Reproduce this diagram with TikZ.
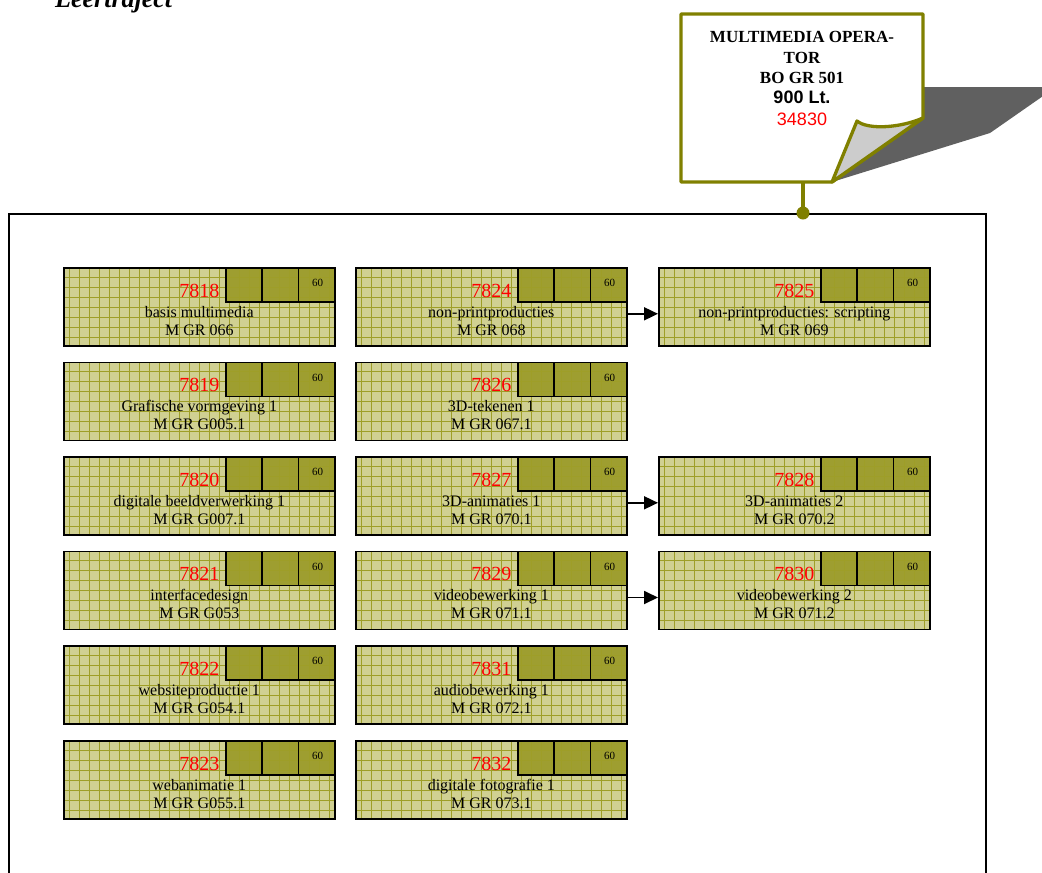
\documentclass[tikz,border=0pt]{standalone}
\usepackage{fontspec}
\setmainfont{Liberation Serif}
\newfontfamily\arialf{Liberation Sans}
\usetikzlibrary{arrows.meta}
\definecolor{olivegrid}{RGB}{158,158,40}
\definecolor{boxfill}{RGB}{208,208,146}
\definecolor{darkfill}{RGB}{158,158,48}
\definecolor{noteline}{RGB}{128,128,0}
\definecolor{shadowgray}{RGB}{96,96,96}
\definecolor{flapgray}{RGB}{204,204,204}
\tikzset{
  course/.style={draw=black, line width=1.6pt, fill=boxfill, minimum width=271pt, minimum height=78pt,
    inner sep=0pt, anchor=north west,
    path picture={
      \coordinate (ne) at (path picture bounding box.north east);
      \fill[darkfill] ([xshift=-109pt,yshift=-34pt]ne) rectangle (ne);
      \draw[olivegrid, line width=0.6pt, step=10pt] (path picture bounding box.south west) grid (path picture bounding box.north east);
      \draw[black, line width=1.6pt] ([xshift=-109pt,yshift=-34pt]ne) rectangle (ne);
      \draw[black, line width=1.6pt] ([xshift=-72.7pt]ne) -- ++(0,-34pt);
      \draw[black, line width=1.6pt] ([xshift=-36.3pt]ne) -- ++(0,-34pt);
    }},
  numtxt/.style={text=red, font=\fontsize{20}{20}\selectfont, anchor=base, inner sep=0pt},
  nametxt/.style={font=\fontsize{16}{16}\selectfont, anchor=base, inner sep=0pt},
  sixty/.style={font=\fontsize{11}{11}\selectfont, inner sep=0pt},
  arr/.style={line width=1.8pt, -{Triangle[length=14pt,width=13pt]}},
  notetxt/.style={font=\fontsize{17}{17}\selectfont\bfseries, anchor=base, inner sep=0pt},
  notesans/.style={font=\arialf\fontsize{18}{18}\selectfont, anchor=base, inner sep=0pt},
  noteedge/.style={draw=noteline, line width=3.3pt, line join=round}
}
\newcommand\course[6]{%
  \node[course] (#1) at (#2,#3) {};
  \node[numtxt] (#1n) at ([yshift=-30pt]#1.north) {#4};
  \node[nametxt] (#1t) at ([yshift=-50pt]#1.north) {#5};
  \node[nametxt] (#1c) at ([yshift=-68pt]#1.north) {#6};
  \node[sixty] (#1s) at ([xshift=-18pt,yshift=-16pt]#1.north east) {60};
}
\begin{document}
\begin{tikzpicture}[x=1pt,y=-1pt]
\useasboundingbox (0,0) rectangle (1042,873);
\clip (0,0) rectangle (1042,873);
\fill[white] (0,0) rectangle (1042,873);
% heading
\node[font=\fontsize{26}{26}\selectfont\bfseries\itshape, anchor=base west, inner sep=0pt] (head) at (55,7) {Leertraject};
% frame
\node[draw=black, line width=1.8pt, minimum width=977pt, minimum height=700pt, anchor=north west, inner sep=0pt] (frame) at (8,213) {};
% note with curled corner
\fill[shadowgray] (832,182) -- (923,87) -- (1056,87) -- (990,133) -- cycle;
\path[noteedge, fill=white] (681,14) -- (923,14) -- (923,118) -- (832,182) -- (681,182) -- cycle;
\path[noteedge, fill=flapgray] (832,182) -- (857,121) .. controls (868,130) and (900,128) .. (923,118) -- cycle;
\node[notetxt] (n1) at (802,42.7) {MULTIMEDIA OPERA-};
\node[notetxt] (n2) at (802,63) {TOR};
\node[notetxt] (n3) at (802,83.3) {BO GR 501};
\node[notesans, font=\arialf\bfseries\fontsize{18}{18}\selectfont] (n4) at (802,103.3) {900 Lt.};
\node[notesans, text=red] (n5) at (802,125) {34830};
\coordinate (nb) at (803,182);
\coordinate (ft) at (803,213);
\draw[noteline, line width=3.6pt] (nb) -- (ft);
\fill[noteline] (ft) circle (6.5pt);
% courses
\course{c7818}{63}{267}{7818}{basis multimedia}{M GR 066}
\course{c7819}{63}{361.5}{7819}{Grafische vormgeving 1}{M GR G005.1}
\course{c7820}{63}{456}{7820}{digitale beeldverwerking 1}{M GR G007.1}
\course{c7821}{63}{550.7}{7821}{interfacedesign}{M GR G053}
\course{c7822}{63}{645.3}{7822}{websiteproductie 1}{M GR G054.1}
\course{c7823}{63}{740}{7823}{webanimatie 1}{M GR G055.1}
\course{c7824}{355}{267}{7824}{non-printproducties}{M GR 068}
\course{c7826}{355}{361.5}{7826}{3D-tekenen 1}{M GR 067.1}
\course{c7827}{355}{456}{7827}{3D-animaties 1}{M GR 070.1}
\course{c7829}{355}{550.7}{7829}{videobewerking 1}{M GR 071.1}
\course{c7831}{355}{645.3}{7831}{audiobewerking 1}{M GR 072.1}
\course{c7832}{355}{740}{7832}{digitale fotografie 1}{M GR 073.1}
\course{c7825}{658}{267}{7825}{non-printproducties: scripting}{M GR 069}
\course{c7828}{658}{456}{7828}{3D-animaties 2}{M GR 070.2}
\course{c7830}{658}{550.7}{7830}{videobewerking 2}{M GR 071.2}
% arrows
\draw[arr] ([yshift=-7pt]c7824.east) -- ([yshift=-7pt]c7825.west);
\draw[arr] ([yshift=-7pt]c7827.east) -- ([yshift=-7pt]c7828.west);
\draw[arr] ([yshift=-7pt]c7829.east) -- ([yshift=-7pt]c7830.west);
\end{tikzpicture}
\end{document}
